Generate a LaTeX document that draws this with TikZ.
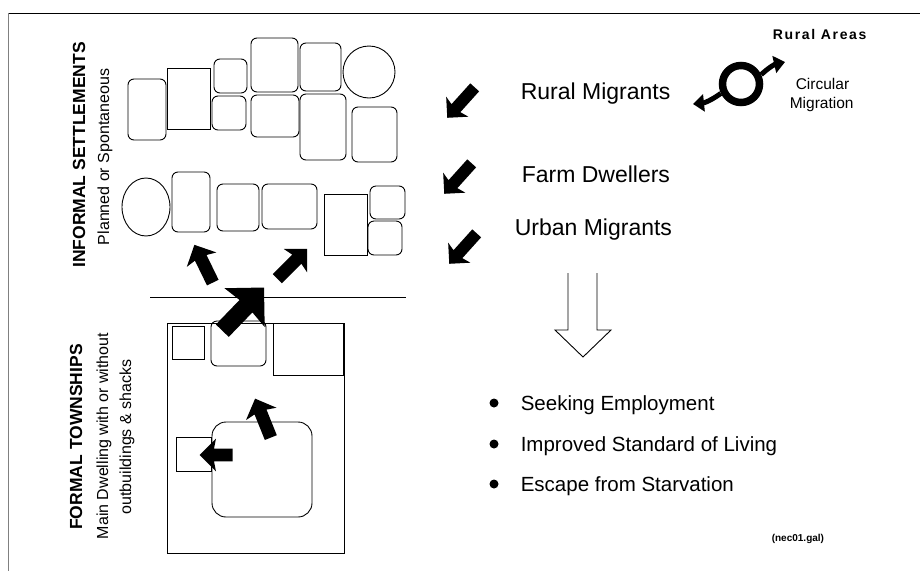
\documentclass[tikz,border=0pt]{standalone}
\usepackage{fontspec}
\setmainfont{Liberation Sans}
\usetikzlibrary{shapes.arrows,arrows.meta}

\begin{document}
\begin{tikzpicture}[x=1pt,y=-1pt,line width=0.9pt,
        hut/.style={draw,rounded corners=6pt},
        shed/.style={draw},
        fatarrow/.style={single arrow,fill=black,draw=none,inner xsep=0pt,anchor=tail,
                         single arrow tip angle=90,single arrow head indent=2pt},
        arrowS/.style={fatarrow,minimum height=41pt,inner ysep=5.5pt,single arrow head extend=9pt},
        arrowM/.style={fatarrow,minimum height=42pt,inner ysep=6pt,single arrow head extend=10pt},
        arrowL/.style={fatarrow,minimum height=60pt,inner ysep=8.5pt,single arrow head extend=19pt},
        title/.style={font=\bfseries\fontsize{17.5}{20}\selectfont,rotate=90,anchor=base},
        sub/.style={font=\fontsize{16}{18}\selectfont,rotate=90,anchor=base},
        group/.style={font=\fontsize{23}{26}\selectfont,anchor=base west},
        reason/.style={font=\fontsize{20.5}{24}\selectfont,anchor=base west}]
        \useasboundingbox (0,0) rectangle (920,571);

        % frame
        \draw (8,13) -- (920,13);
        \draw[gray] (8,13) -- (8,571);

        % informal settlements, upper row
        \draw[hut] (128,79) rectangle (166,140);
        \draw[shed] (167,68) rectangle (210,129);
        \draw[hut] (214,59) rectangle (247,93);
        \draw[hut] (212,96) rectangle (246,130);
        \draw[hut] (251,38) rectangle (298,92);
        \draw[hut] (300,43) rectangle (341,91);
        \draw (369,72) circle (26);
        \draw[hut] (251,95) rectangle (299,137);
        \draw[hut] (300,94) rectangle (346,160);
        \draw[hut] (352,107) rectangle (397,162);

        % informal settlements, lower row
        \draw (146,207) ellipse (24 and 29);
        \draw[hut] (172,172) rectangle (210,232);
        \draw[hut] (217,184) rectangle (259,231);
        \draw[hut] (262,184) rectangle (317,229);
        \draw[shed] (324,194) rectangle (367,255);
        \draw[hut] (370,186) rectangle (405,219);
        \draw[hut] (368,221) rectangle (402,255);

        \node[arrowM,rotate=116] (upL) at (213,283) {};
        \node[arrowM,rotate=45] (upR) at (277,279) {};

        \draw (150,297) -- (406,297);

        % formal townships
        \draw[shed] (167,323) rectangle (344,553);
        \draw[shed] (172,326) rectangle (204,359);
        \draw[hut] (211,321) rectangle (266,366);
        \draw[shed] (273,323) rectangle (343,375);
        \draw[hut,rounded corners=14pt] (212,422) rectangle (312,517);
        \draw[shed] (176,437) rectangle (211,471);
        \node[arrowL,rotate=46] (out) at (222,331) {};
        \node[arrowM,minimum height=33pt,rotate=180] (back) at (233,455) {};
        \node[arrowM,rotate=112] (yard) at (271,438) {};

        \node[title] (inf) at (85,155) {INFORMAL SETTLEMENTS};
        \node[sub] (inf2) at (109,157) {Planned or Spontaneous};
        \node[title] (frm) at (82,437) {FORMAL TOWNSHIPS};
        \node[sub] (frm2) at (108,436) {Main Dwelling with or without};
        \node[sub] (frm3) at (131,437) {outbuildings \& shacks};

        % migrant groups
        \node[arrowS,rotate=228] (a1) at (475,87) {};
        \node[arrowS,rotate=228] (a2) at (472,163) {};
        \node[arrowS,rotate=228] (a3) at (477,233) {};
        \node[group] (rm) at (517,99) {Rural Migrants};
        \node[group] (fd) at (518,182) {Farm Dwellers};
        \node[group] (um) at (511,235) {Urban Migrants};

        % rural areas
        \node[font=\bfseries\fontsize{14}{16}\selectfont\addfontfeature{LetterSpace=12},anchor=base west] (ra) at (769,39) {Rural Areas};
        \node[draw,circle,line width=7.5pt,minimum size=37pt,inner sep=0pt] (ring) at (741,84) {};
        \coordinate (cmL) at (693,104);
        \coordinate (cmR) at (785,62);
        \draw[line width=5pt,-{Triangle[length=11pt,width=17pt]}] (ring.205) to[bend left=15] (cmL);
        \draw[line width=5pt,-{Triangle[length=11pt,width=17pt]}] (ring.25) to[bend left=15] (cmR);
        \node[font=\fontsize{15.5}{18}\selectfont,anchor=base west] (cm1) at (792,89) {Circular};
        \node[font=\fontsize{15.5}{18}\selectfont,anchor=base west] (cm2) at (786,108) {Migration};

        % open arrow
        \draw (568,273) -- (568,330) -- (555,330) -- (583,357) -- (611,330) -- (597,330) -- (597,273);

        % reasons
        \foreach \y/\t [count=\i] in {410/Seeking Employment,451/Improved Standard of Living,491/Escape from Starvation}{
            \fill (494,\y-7) circle (4.5);
            \node[reason] (r\i) at (517,\y) {\t};
        }

        \node[font=\bfseries\fontsize{10}{12}\selectfont,anchor=base west] (file) at (768,541) {(nec01.gal)};
    \end{tikzpicture}
\end{document}
